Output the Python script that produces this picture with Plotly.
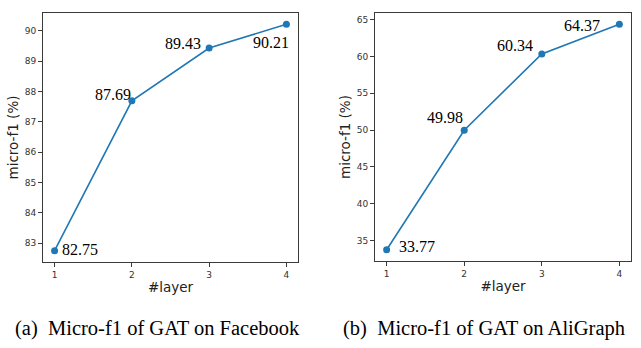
import plotly.graph_objects as go

layers = [1, 2, 3, 4]
facebook_f1 = [82.75, 87.69, 89.43, 90.21]
aligraph_f1 = [33.77, 49.98, 60.34, 64.37]
facebook_labels = ["82.75", "87.69", "89.43", "90.21"]
aligraph_labels = ["33.77", "49.98", "60.34", "64.37"]
captions = ["(a)\u00a0\u00a0Micro-f1 of GAT on Facebook", "(b)\u00a0\u00a0Micro-f1 of GAT on AliGraph"]

W, H = 641, 348
BLUE = "#1f77b4"
AX = "#3a3a3a"

fig = go.Figure()
for i, (ys, ax) in enumerate([(facebook_f1, ""), (aligraph_f1, "2")]):
    fig.add_trace(go.Scatter(
        x=layers, y=ys, mode="lines+markers",
        line=dict(color=BLUE, width=1.6),
        marker=dict(color=BLUE, size=7),
        xaxis="x" + ax, yaxis="y" + ax, showlegend=False,
        hoverinfo="skip"))

def pad(v):
    lo, hi = min(v), max(v)
    m = (hi - lo) * 0.05
    return [lo - m, hi + m]

axis_common = dict(
    showline=True, mirror=True, linecolor=AX, linewidth=1,
    ticks="outside", ticklen=4, tickcolor=AX, tickwidth=1,
    showgrid=False, zeroline=False,
    tickfont=dict(family="DejaVu Sans", size=9, color="#333"),
    title_font=dict(family="DejaVu Sans", size=13.5, color="#222"),
)

fig.update_layout(
    width=W, height=H, margin=dict(l=0, r=0, t=0, b=0),
    paper_bgcolor="white", plot_bgcolor="white",
    xaxis=dict(domain=[43/W, 298/W], range=[0.85, 4.15], tickvals=layers,
               title=dict(text="#layer", standoff=3), anchor="y", **axis_common),
    yaxis=dict(domain=[1-262/H, 1-13/H], range=pad(facebook_f1), dtick=1,
               title=dict(text="micro-f1 (%)", standoff=3), anchor="x", **axis_common),
    xaxis2=dict(domain=[375/W, 631/W], range=[0.85, 4.15], tickvals=layers,
                title=dict(text="#layer", standoff=3), anchor="y2", **axis_common),
    yaxis2=dict(domain=[1-261/H, 1-13/H], range=pad(aligraph_f1), dtick=5,
                title=dict(text="micro-f1 (%)", standoff=3), anchor="x2", **axis_common),
)

tfont = dict(family="Liberation Serif", size=16, color="black")
# (xanchor, yanchor, xshift, yshift) per point
fb_pos = [("left", "middle", 5, 1), ("right", "bottom", 1, -4),
          ("right", "bottom", -6, -6), ("right", "top", 5, -8)]
ag_pos = [("left", "middle", 10, 3), ("right", "bottom", 1, 2),
          ("right", "bottom", -7, -2), ("right", "middle", -17, -1)]
for ys, labs, pos, ax in [(facebook_f1, facebook_labels, fb_pos, ""),
                         (aligraph_f1, aligraph_labels, ag_pos, "2")]:
    for x, y, t, (xa, ya, xs, ysh) in zip(layers, ys, labs, pos):
        fig.add_annotation(x=x, y=y, xref="x" + ax, yref="y" + ax, text=t,
                           showarrow=False, xanchor=xa, yanchor=ya,
                           xshift=xs, yshift=ysh, font=tfont)

cfont = dict(family="Liberation Serif", size=20.5, color="black")
fig.add_annotation(x=13/W, y=1-328/H, xref="paper", yref="paper", text=captions[0],
                   showarrow=False, xanchor="left", yanchor="middle", font=cfont)
fig.add_annotation(x=341/W, y=1-328/H, xref="paper", yref="paper", text=captions[1],
                   showarrow=False, xanchor="left", yanchor="middle", font=cfont)

fig.write_html("out.html")
